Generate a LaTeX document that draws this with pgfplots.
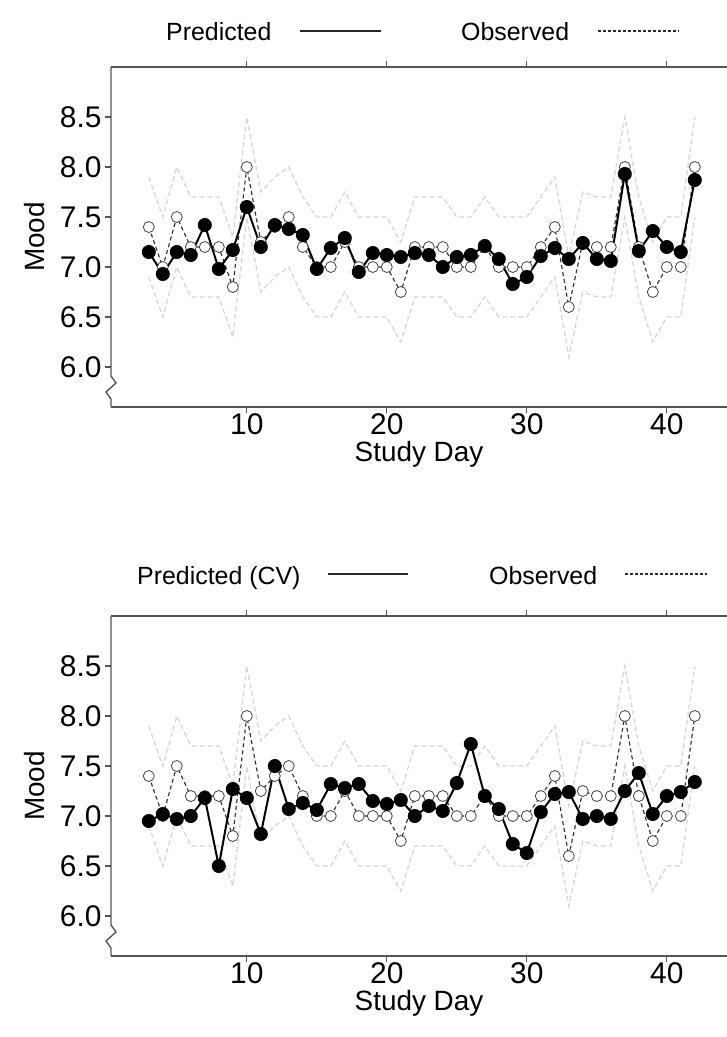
\documentclass[border=0pt]{standalone}
\usepackage{pgfplots}
\pgfplotsset{compat=1.18}
\usepackage{pgfplotstable}
\usepackage{fontspec}
\setmainfont{Liberation Sans}

\pgfplotstableread{
d  obs   predA predB up   lo
3  7.4   7.15  6.95  7.9  6.9
4  7.0   6.93  7.02  7.5  6.5
5  7.5   7.15  6.97  8.0  7.0
6  7.2   7.12  7.00  7.7  6.7
7  7.2   7.42  7.18  7.7  6.7
8  7.2   6.98  6.50  7.7  6.7
9  6.8   7.17  7.27  7.3  6.3
10 8.0   7.60  7.18  8.5  7.5
11 7.25  7.20  6.82  7.75 6.75
12 7.4   7.42  7.50  7.9  6.9
13 7.5   7.38  7.07  8.0  7.0
14 7.2   7.32  7.13  7.7  6.7
15 7.0   6.98  7.06  7.5  6.5
16 7.0   7.19  7.32  7.5  6.5
17 7.25  7.29  7.28  7.75 6.75
18 7.0   6.95  7.32  7.5  6.5
19 7.0   7.14  7.15  7.5  6.5
20 7.0   7.12  7.12  7.5  6.5
21 6.75  7.10  7.16  7.25 6.25
22 7.2   7.14  7.00  7.7  6.7
23 7.2   7.12  7.10  7.7  6.7
24 7.2   7.00  7.05  7.7  6.7
25 7.0   7.10  7.33  7.5  6.5
26 7.0   7.12  7.72  7.5  6.5
27 7.2   7.21  7.20  7.7  6.7
28 7.0   7.08  7.07  7.5  6.5
29 7.0   6.83  6.72  7.5  6.5
30 7.0   6.90  6.63  7.5  6.5
31 7.2   7.11  7.04  7.7  6.7
32 7.4   7.19  7.22  7.9  6.9
33 6.6   7.08  7.24  7.1  6.1
34 7.25  7.24  6.97  7.75 6.75
35 7.2   7.08  7.00  7.7  6.7
36 7.2   7.06  6.97  7.7  6.7
37 8.0   7.93  7.25  8.5  7.5
38 7.2   7.16  7.43  7.7  6.7
39 6.75  7.36  7.02  7.25 6.25
40 7.0   7.20  7.20  7.5  6.5
41 7.0   7.15  7.24  7.5  6.5
42 8.0   7.87  7.34  8.5  7.5
}\mooddata

\definecolor{axisgray}{HTML}{555555}
\definecolor{bandgray}{HTML}{D6D6D6}
\definecolor{obsgray}{HTML}{2A2A2A}
\definecolor{circgray}{HTML}{444444}

\pgfplotsset{
  moodaxis/.style={
    scale only axis, width=616bp, height=340bp,
    xmin=0.3, xmax=44.3, ymin=5.6, ymax=9.0,
    axis x line=box, axis y line=left,
    x axis line style={-, draw=axisgray, line width=1.4bp},
    y axis line style={-, draw=none},
    xtick={10,20,30,40}, ytick={6,6.5,7,7.5,8,8.5},
    yticklabel style={/pgf/number format/.cd, fixed, fixed zerofill, precision=1},
    tick align=outside, major tick length=6bp,
    every tick/.style={axisgray, line width=1.2bp},
    ytick pos=left,
    /pgf/number format/assume math mode=true,
    tick label style={font=\fontsize{30}{32}\selectfont},
    xticklabel style={yshift=3bp},
    label style={font=\fontsize{28}{30}\selectfont},
    xlabel={Study Day}, ylabel={Mood},
    ylabel shift=8bp,
    clip=false,
  },
  band/.style={bandgray, line width=1.3bp, dash pattern=on 5bp off 3bp, no marks},
  obsline/.style={obsgray, line width=1.1bp, dash pattern=on 4bp off 3bp,
    mark=*, mark size=5.5bp, mark options={solid, fill=white, draw=circgray, line width=0.8bp}},
  predline/.style={black, line width=2bp, mark=*, mark size=6bp, mark options={solid, fill=black}},
}

\newcommand{\breakline}{%
  \draw[axisgray, line width=1.4bp] (axis cs:0.3,9.0) -- (axis cs:0.3,5.91)
    -- ([xshift=5bp]axis cs:0.3,5.84) -- ([xshift=-5bp]axis cs:0.3,5.75)
    -- (axis cs:0.3,5.68) -- (axis cs:0.3,5.6);}

\begin{document}
\begin{tikzpicture}
\path[use as bounding box] (0,0) rectangle (727bp,-1037bp);

% top legend
\node[anchor=base west, inner sep=0, font=\fontsize{25}{28}\selectfont] at (166bp,-40bp) {Predicted};
\draw[black!85, line width=1.3bp] (300bp,-31bp) -- (381bp,-31bp);
\node[anchor=base west, inner sep=0, font=\fontsize{25}{28}\selectfont] at (461bp,-40bp) {Observed};
\draw[obsgray, line width=1.1bp, dash pattern=on 3bp off 2bp] (598bp,-31bp) -- (679bp,-31bp);

\begin{axis}[moodaxis, at={(111bp,-407bp)}, anchor=south west]
\addplot[band] table[x=d, y=up] {\mooddata};
\addplot[band] table[x=d, y=lo] {\mooddata};
\addplot[obsline] table[x=d, y=obs] {\mooddata};
\addplot[predline] table[x=d, y=predA] {\mooddata};
\breakline
\end{axis}

% bottom legend
\node[anchor=base west, inner sep=0, font=\fontsize{25}{28}\selectfont] at (137bp,-584bp) {Predicted (CV)};
\draw[black!85, line width=1.3bp] (328bp,-574bp) -- (408bp,-574bp);
\node[anchor=base west, inner sep=0, font=\fontsize{25}{28}\selectfont] at (489bp,-584bp) {Observed};
\draw[obsgray, line width=1.1bp, dash pattern=on 3bp off 2bp] (625bp,-574bp) -- (707bp,-574bp);

\begin{axis}[moodaxis, at={(111bp,-956bp)}, anchor=south west]
\addplot[band] table[x=d, y=up] {\mooddata};
\addplot[band] table[x=d, y=lo] {\mooddata};
\addplot[obsline] table[x=d, y=obs] {\mooddata};
\addplot[predline] table[x=d, y=predB] {\mooddata};
\breakline
\end{axis}
\end{tikzpicture}
\end{document}
